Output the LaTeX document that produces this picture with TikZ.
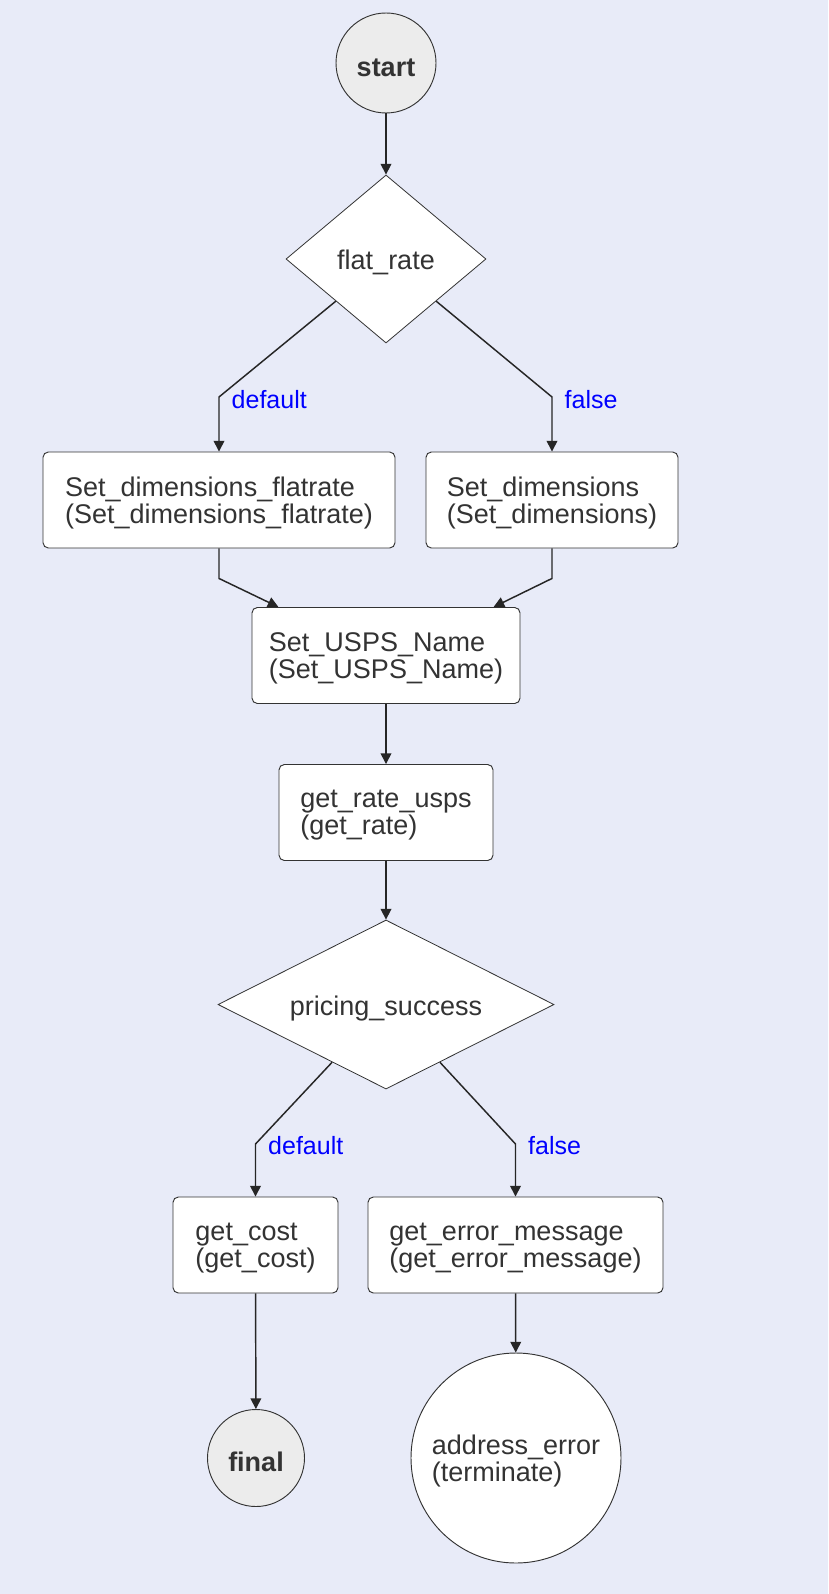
\documentclass[tikz,border=0pt]{standalone}
\usepackage{fontspec}
\setmainfont{Liberation Sans}
\usetikzlibrary{shapes.geometric,arrows.meta,calc}
\definecolor{bgcol}{RGB}{232,235,248}
\definecolor{inkcol}{RGB}{51,51,51}
\definecolor{termfill}{RGB}{236,236,236}

\begin{document}
\begin{tikzpicture}[x=0.75pt,y=-0.75pt,
  every node/.style={text=inkcol,font=\fontsize{20.25}{20.6}\selectfont},
  lowtext/.style={execute at begin node={\rule{0pt}{20.5pt}}},
  state/.style={rectangle,rounded corners=4pt,draw=inkcol,fill=white,
                line width=0.7pt,align=left,inner sep=0pt,minimum height=72pt,
                text depth=-1pt},
  choice/.style={diamond,draw=inkcol,fill=white,line width=0.6pt,lowtext,
                 inner sep=0pt,shape aspect=2},
  term/.style={circle,draw=inkcol,fill=termfill,line width=0.7pt,lowtext,
               inner sep=0pt,minimum size=75pt,font=\fontsize{20.25}{20.6}\bfseries},
  halt/.style={circle,draw=inkcol,fill=white,line width=0.7pt,align=left,
               inner sep=0pt,minimum size=157.5pt,text depth=-1pt},
  flow/.style={draw=black!85,line width=1.1pt,-{Triangle[length=8pt,width=8pt]}},
  cond/.style={text=blue,font=\fontsize{18.75}{20}\selectfont,inner sep=0pt,
               anchor=west,xshift=9pt,yshift=-2pt}]
  % canvas, pixel units of the reference
  \fill[bgcol] (0,0) rectangle (828,1594);
  \useasboundingbox (0,0) rectangle (828,1594);

  % states and choices
  \node[term] (start) at (386,63) {start};
  \node[choice,minimum width=150pt,minimum height=126pt] (flat) at (386,259) {flat\_rate};
  \node[state,minimum width=264pt] (fl) at (219,500)
    {Set\_dimensions\_flatrate\\(Set\_dimensions\_flatrate)};
  \node[state,minimum width=189pt] (sd) at (552,500)
    {Set\_dimensions\\(Set\_dimensions)};
  \node[state,minimum width=201pt] (usps) at (386,655.5)
    {Set\_USPS\_Name\\(Set\_USPS\_Name)};
  \node[state,minimum width=160.5pt] (rate) at (386,812.5)
    {get\_rate\_usps\\(get\_rate)};
  \node[choice,minimum width=252pt,minimum height=126.75pt] (price) at (386,1004.5)
    {pricing\_success};
  \node[state,minimum width=123.75pt] (cost) at (255.5,1245)
    {get\_cost\\(get\_cost)};
  \node[state,minimum width=221.25pt] (err) at (515.5,1245)
    {get\_error\_message\\(get\_error\_message)};
  \node[term,minimum size=72.75pt] (final) at (256,1458) {final};
  \node[halt] (addr) at (516,1458) {address\_error\\(terminate)};

  % transitions
  \draw[flow] (start) -- (flat);
  \draw[flow] ($(flat.west)!.5!(flat.south)$) -- (fl.north |- 0,397)
    node[cond] {default} -- (fl.north);
  \draw[flow] ($(flat.east)!.5!(flat.south)$) -- (sd.north |- 0,397)
    node[cond] {false} -- (sd.north);
  \draw[flow] (fl.south) -- ++(0,30) -- ($(usps.north west)!.1!(usps.north east)$);
  \draw[flow] (sd.south) -- ++(0,30) -- ($(usps.north west)!.9!(usps.north east)$);
  \draw[flow] (usps) -- (rate);
  \draw[flow] (rate) -- (price);
  \draw[flow] ($(price.west)!.68!(price.south)$) -- (cost.north |- 0,1144)
    node[cond,yshift=.5pt] {default} -- (cost.north);
  \draw[flow] ($(price.east)!.68!(price.south)$) -- (err.north |- 0,1144)
    node[cond,yshift=.5pt] {false} -- (err.north);
  \draw[flow] (cost) -- (final);
  \draw[flow] (err) -- (addr);
\end{tikzpicture}
\end{document}
